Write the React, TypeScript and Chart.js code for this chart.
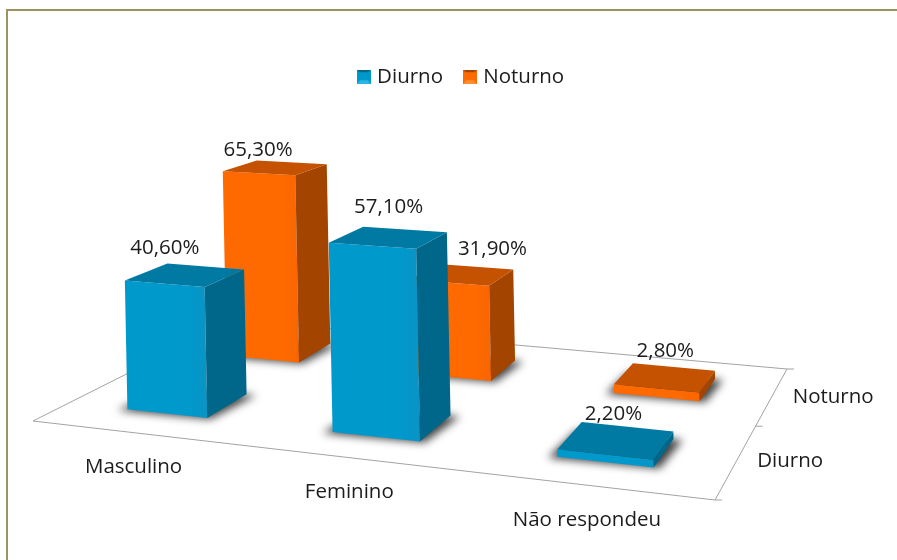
import React, { useEffect, useRef } from "react";
import { Chart, registerables, BarController, BarElement } from "chart.js";

const categories = ["Masculino", "Feminino", "Não respondeu"];
const seriesNames = ["Diurno", "Noturno"];
const diurno = [40.6, 57.1, 2.2];
const noturno = [65.3, 31.9, 2.8];

const FONT = "'Open Sans', sans-serif";
const INK = "#1c1c1c";
const PALETTE = [
  { front: "#0099cc", frontEnd: "#0a94c4", side: "#00678a", top: "#007aa3" },
  { front: "#ff6a00", frontEnd: "#f96600", side: "#a34400", top: "#c45200" },
];

// Camera: the picture of the floor rectangle of the 3D chart (front-left, front-right, back-right, back-left).
const FLOOR = [[33, 421], [715, 500], [787, 369], [234, 320]];
const G = (() => {
  const [[x0, y0], [x1, y1], [x2, y2], [x3, y3]] = FLOOR;
  const dx1 = x1 - x2, dx2 = x3 - x2, sx = x0 - x1 + x2 - x3;
  const dy1 = y1 - y2, dy2 = y3 - y2, sy = y0 - y1 + y2 - y3;
  const det = dx1 * dy2 - dx2 * dy1;
  const g = (sx * dy2 - dx2 * sy) / det;
  const h = (dx1 * sy - sx * dy1) / det;
  return { x0, y0, g, h, a: x1 - x0 + g * x1, b: x3 - x0 + h * x3, d: y1 - y0 + g * y1, e: y3 - y0 + h * y3 };
})();
const project = (s: number, t: number) => {
  const w = 1 + G.g * s + G.h * t;
  return { x: (G.x0 + G.a * s + G.b * t) / w, y: (G.y0 + G.d * s + G.e * t) / w, w };
};
const ROWS = seriesNames.length;
const TILT = 0.02;
// Hand-placed data label shifts of the original, [dataset][category].
const LABEL_SHIFT = [
  [[-23, -27], [-4, -30], [-3, -26]],
  [[-21, -18], [28, -25], [0, -26]],
];

class Bar3DElement extends BarElement {
  static id = "bar3d";
  static defaults = { ...BarElement.defaults };
  draw(ctx: CanvasRenderingContext2D) {
    const box = (this as any).box;
    if (!box) return;
    const { f0, f1, b1, b0, t0, t1, t2, t3, pal } = box;
    const poly = (pts: any[], fill: any) => {
      ctx.beginPath();
      pts.forEach((p, i) => (i ? ctx.lineTo(p.x, p.y) : ctx.moveTo(p.x, p.y)));
      ctx.closePath();
      ctx.fillStyle = fill;
      ctx.fill();
    };
    // Soft contact shadow: only the shadow of an off-canvas, slightly wider footprint lands on the page.
    const cx = (f0.x + f1.x + b1.x + b0.x) / 4;
    const far = 3000;
    const spread = (p: any) => ({ x: cx + (p.x - cx) * 1.16 - far, y: p.y });
    ctx.save();
    ctx.shadowColor = "rgba(0,0,0,0.75)";
    ctx.shadowBlur = 9;
    ctx.shadowOffsetX = far;
    ctx.shadowOffsetY = 1;
    poly([f0, f1, b1, b0].map(spread), "#000");
    ctx.restore();
    ctx.save();
    const grad = ctx.createLinearGradient(f0.x, 0, f1.x, 0);
    grad.addColorStop(0, pal.front);
    grad.addColorStop(0.75, pal.front);
    grad.addColorStop(1, pal.frontEnd);
    poly([f0, f1, t1, t0], grad);
    poly([f1, b1, t2, t1], pal.side);
    poly([t0, t1, t2, t3], pal.top);
    ctx.restore();
  }
}

class Bar3DController extends BarController {
  static id = "bar3d";
  static defaults = { ...BarController.defaults, dataElementType: "bar3d" };
  static overrides = BarController.overrides;
  updateElements(rects: any[], start: number, count: number, mode: any) {
    super.updateElements(rects, start, count, mode);
    const chart = this.chart as any;
    const xs = chart.scales.x, ys = chart.scales.y;
    const row = this.index;
    const n = xs.getLabels().length;
    const cell = xs.width / n;
    const k = ys.getPixelForValue(0) - ys.getPixelForValue(1);
    const data = chart.data.datasets[row].data;
    for (let i = start; i < start + count; i++) {
      const rect = rects[i - start] ?? rects[i];
      const u = (xs.getPixelForValue(i) - xs.left) / cell;
      const half = rect.width / 2 / cell;
      const v = row + 0.5;
      const v0 = v - half, v1 = v + half;
      const h = data[i] * k;
      const at = (uu: number, vv: number, lift: number) => {
        const p = project(uu / n, vv / ROWS);
        const px = lift / p.w;
        return { x: p.x - TILT * px, y: p.y - px };
      };
      rect.box = {
        f0: at(u - half, v0, 0), f1: at(u + half, v0, 0), b1: at(u + half, v1, 0), b0: at(u - half, v1, 0),
        t0: at(u - half, v0, h), t1: at(u + half, v0, h), t2: at(u + half, v1, h), t3: at(u - half, v1, h),
        pal: PALETTE[row],
      };
      const c = project(u / n, v / ROWS);
      rect.anchor = { x: c.x, y: c.y - h / c.w };
    }
  }
}

Chart.register(...registerables, Bar3DElement as any, Bar3DController as any);

const floorPlugin = {
  id: "floor3d",
  beforeDatasetsDraw(chart: any) {
    const { ctx } = chart;
    const n = chart.scales.x.getLabels().length;
    ctx.save();
    ctx.strokeStyle = "#a3a3a3";
    ctx.lineWidth = 1;
    ctx.beginPath();
    FLOOR.forEach(([x, y], i) => (i ? ctx.lineTo(x, y) : ctx.moveTo(x, y)));
    ctx.closePath();
    for (let r = 0; r <= ROWS; r++) {
      const p = project(1, r / ROWS);
      ctx.moveTo(p.x, p.y);
      ctx.lineTo(p.x + 7, p.y);
    }
    ctx.stroke();
    ctx.fillStyle = INK;
    ctx.font = `20.5px ${FONT}`;
    ctx.textAlign = "center";
    ctx.textBaseline = "middle";
    categories.forEach((c, i) => {
      const p = project((i + 0.5) / n, 0);
      ctx.fillText(c, p.x, p.y + 35);
    });
    ctx.textAlign = "left";
    seriesNames.forEach((s, r) => {
      const p = project(1, (r + 0.5) / ROWS);
      ctx.fillText(s, p.x + 20.5, p.y + 1);
    });
    ctx.restore();
  },
  afterDatasetsDraw(chart: any) {
    const { ctx } = chart;
    ctx.save();
    ctx.fillStyle = INK;
    ctx.font = `20.5px ${FONT}`;
    ctx.textAlign = "center";
    ctx.textBaseline = "middle";
    chart.data.datasets.forEach((ds: any, r: number) => {
      chart.getDatasetMeta(r).data.forEach((el: any, i: number) => {
        const [dx, dy] = LABEL_SHIFT[r][i];
        const text = ds.data[i].toFixed(2).replace(".", ",") + "%";
        ctx.fillText(text, el.anchor.x + dx, el.anchor.y + dy);
      });
    });
    ctx.restore();
  },
};

function marker(index: number) {
  const c = document.createElement("canvas");
  c.width = 14;
  c.height = 14;
  const g = c.getContext("2d")!;
  const pal = PALETTE[index];
  const light = index === 0 ? "#2db5e3" : "#ff8c2e";
  g.fillStyle = pal.front;
  g.fillRect(0, 0, 14, 14);
  g.fillStyle = light;
  g.beginPath();
  g.moveTo(0, 14); g.lineTo(14, 14); g.lineTo(11, 10); g.lineTo(3, 10);
  g.closePath();
  g.fill();
  g.fillStyle = pal.side;
  g.beginPath();
  g.moveTo(0, 0); g.lineTo(14, 0); g.lineTo(11, 2); g.lineTo(3, 2);
  g.closePath();
  g.fill();
  return c;
}

export default function App() {
  const ref = useRef<HTMLCanvasElement>(null);
  useEffect(() => {
    const chart = new Chart(ref.current!, {
      type: "bar3d" as any,
      data: {
        labels: categories,
        datasets: [
          { label: seriesNames[0], data: diurno, backgroundColor: PALETTE[0].front, grouped: false, barPercentage: 1, categoryPercentage: 0.4, clip: false },
          { label: seriesNames[1], data: noturno, backgroundColor: PALETTE[1].front, grouped: false, barPercentage: 1, categoryPercentage: 0.4, clip: false },
        ] as any,
      },
      options: {
        animation: false,
        responsive: false,
        events: [],
        layout: { padding: { top: 43, left: 28, right: 0, bottom: 138 } },
        scales: {
          x: { type: "category", display: false, offset: true },
          y: { type: "linear", display: false, min: 0, max: 100 },
        },
        plugins: {
          tooltip: { enabled: false },
          legend: {
            position: "top",
            labels: {
              usePointStyle: true,
              boxWidth: 6,
              boxHeight: 14,
              padding: 24,
              color: INK,
              font: { family: FONT, size: 20.5 },
              generateLabels: () =>
                seriesNames.map((s, i) => ({ text: s, pointStyle: marker(i), fontColor: INK, datasetIndex: i, lineWidth: 0 })) as any,
            },
          },
        },
      } as any,
      plugins: [floorPlugin],
    });
    return () => chart.destroy();
  }, []);
  return (
    <div style={{ position: "fixed", left: 0, top: 0, width: 897, height: 560, background: "#fff", overflow: "hidden" }}>
      <div style={{ position: "absolute", left: 6, top: 9, right: 0, height: 2, background: "#9a9560" }} />
      <div style={{ position: "absolute", left: 6, top: 9, bottom: 0, width: 2, background: "#9a9560" }} />
      <canvas ref={ref} width={897} height={560} style={{ position: "absolute", left: 0, top: 0, display: "block" }} />
    </div>
  );
}
